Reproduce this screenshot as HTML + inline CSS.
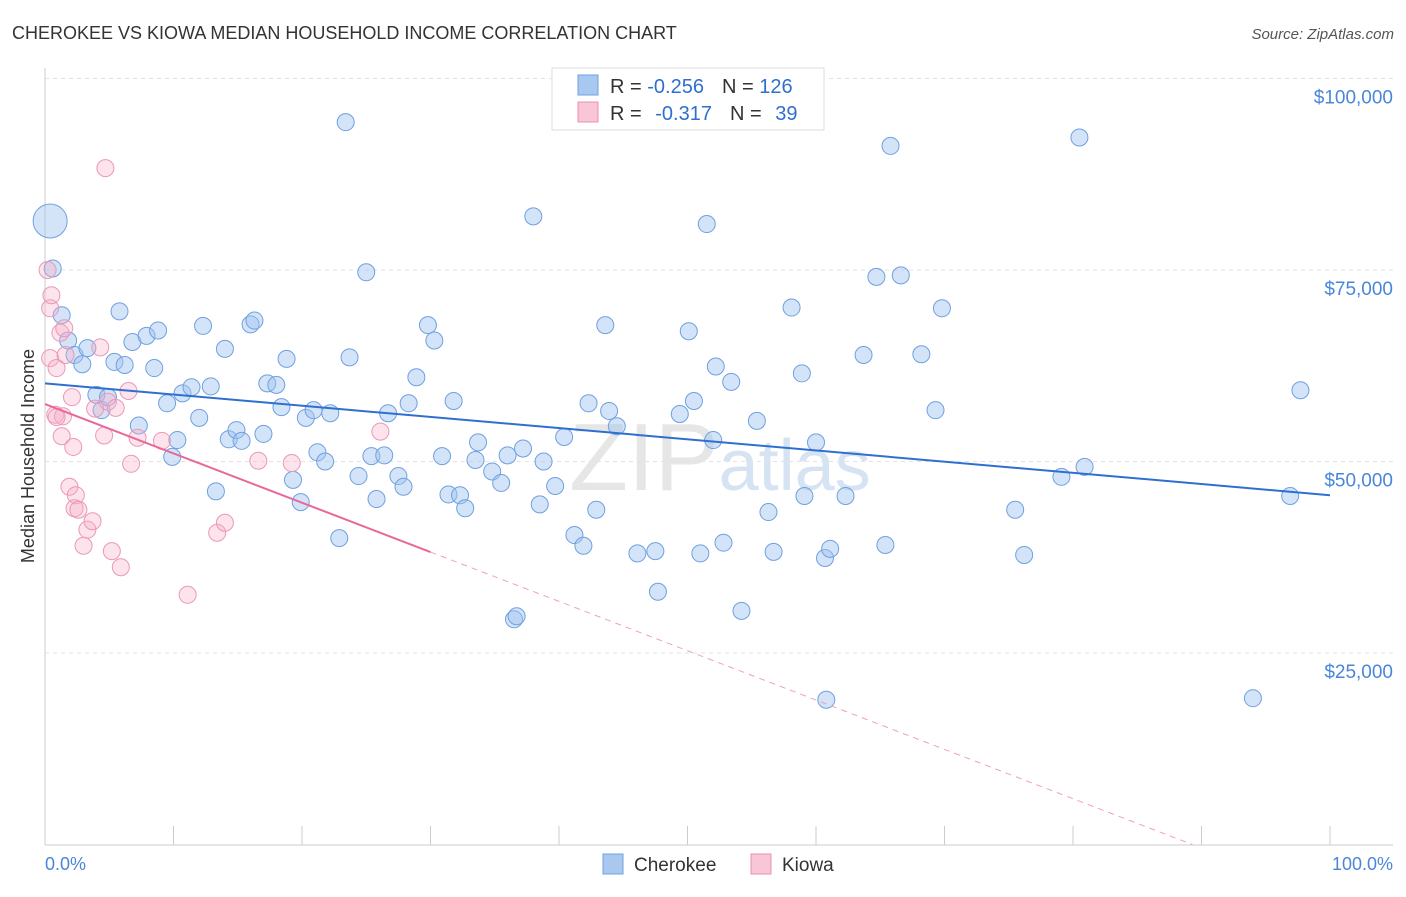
<!DOCTYPE html>
<html><head><meta charset="utf-8"><style>
body{margin:0;background:#fff;font-family:"Liberation Sans",sans-serif;}
svg text{font-family:"Liberation Sans",sans-serif;}
</style></head><body>
<svg id="chart" width="1406" height="892" viewBox="0 0 1406 892" xmlns="http://www.w3.org/2000/svg">
<text x="12" y="39" font-size="18" fill="#333">CHEROKEE VS KIOWA MEDIAN HOUSEHOLD INCOME CORRELATION CHART</text>
<text x="1394" y="39" font-size="15" fill="#555" text-anchor="end" font-style="italic">Source: ZipAtlas.com</text>
<text x="720" y="490" font-size="96" fill="#e6e6e6" text-anchor="middle" font-family="Liberation Serif">ZIP<tspan fill="#d5e3f3" font-family="Liberation Sans" font-size="72">atlas</tspan></text>
<g id="grid"></g>
<g id="axes"></g>
<g id="points"></g>
<g id="trends"></g>
<text transform="translate(34,456) rotate(-90)" font-size="18" fill="#333" text-anchor="middle">Median Household Income</text>
<text x="45" y="870" font-size="18" fill="#4a86d8">0.0%</text>
<text x="1393" y="870" font-size="18" fill="#4a86d8" text-anchor="end">100.0%</text>
<g>
<rect x="552" y="68" width="272" height="62" fill="#fff" stroke="#ddd"/>
<rect x="578" y="75" width="20" height="20" fill="#a9c8f0" stroke="#6fa0e0"/>
<rect x="578" y="102" width="20" height="20" fill="#f8c6d6" stroke="#e890b0"/>
<text x="610" y="93" font-size="20" fill="#333">R = <tspan fill="#2f6fd0">-0.256</tspan><tspan dx="18">N = </tspan><tspan fill="#2f6fd0">126</tspan></text>
<text x="610" y="120" font-size="20" fill="#333">R = <tspan dx="8" fill="#2f6fd0">-0.317</tspan><tspan dx="18">N = </tspan><tspan dx="8" fill="#2f6fd0">39</tspan></text>
</g>
<g>
<rect x="603" y="854" width="20" height="20" fill="#a9c8f0" stroke="#6fa0e0"/>
<text x="634" y="871" font-size="19" fill="#333">Cherokee</text>
<rect x="751" y="854" width="20" height="20" fill="#f8c6d6" stroke="#e890b0"/>
<text x="782" y="871" font-size="19" fill="#333">Kiowa</text>
</g>
</svg>
<script>
const yTicks=[25000,50000,75000,100000];
const yTickLabels=["$25,000","$50,000","$75,000","$100,000"];
const xTicks=[0,10,20,30,40,50,60,70,80,90,100];
const cherokeeX=[0.4,0.6,1.3,1.8,2.3,2.9,3.3,4.0,4.4,4.9,5.4,5.8,6.2,6.8,7.3,7.9,8.5,8.8,9.5,9.9,10.3,10.7,11.4,12.0,12.3,12.9,13.3,14.0,14.3,14.9,15.3,16.0,16.3,17.0,17.3,18.0,18.4,18.8,19.3,19.9,20.3,20.9,21.2,21.8,22.2,22.9,23.4,23.7,24.4,25.0,25.4,25.8,26.4,26.7,27.5,27.9,28.3,28.9,29.8,30.3,30.9,31.4,31.8,32.3,32.7,33.5,33.7,34.8,35.5,36.0,36.5,36.7,37.2,38.0,38.5,38.8,39.7,40.4,41.2,41.9,42.3,42.9,43.6,43.9,44.5,46.1,47.5,47.7,49.4,50.1,50.5,51.0,51.5,52.0,52.2,52.8,53.4,54.2,55.4,56.3,56.7,58.1,58.9,59.1,60.0,60.7,60.8,61.1,62.3,63.7,64.7,65.4,65.8,66.6,68.2,69.3,69.8,75.5,76.2,79.1,80.5,80.9,94.0,96.9,97.7];
const cherokeeY=[81.4,75.2,69.1,65.8,63.9,62.7,64.8,58.7,56.7,58.4,63.0,69.6,62.6,65.6,54.7,66.4,62.2,67.1,57.6,50.6,52.8,58.9,59.7,55.7,67.7,59.8,46.1,64.7,52.9,54.1,52.7,67.9,68.4,53.6,60.2,60.0,57.1,63.4,47.6,44.7,55.7,56.7,51.2,50.0,56.3,40.0,94.3,63.6,48.1,74.7,50.7,45.1,50.8,56.3,48.1,46.7,57.6,61.0,67.8,65.8,50.7,45.7,57.9,45.6,43.9,50.2,52.5,48.7,47.2,50.8,29.4,29.8,51.7,82.0,44.4,50.0,46.8,53.2,40.4,39.0,57.6,43.7,67.8,56.6,54.6,38.0,38.3,33.0,56.2,67.0,57.9,38.0,81.0,52.8,62.4,39.4,60.4,30.5,55.3,43.4,38.2,70.1,61.5,45.5,52.5,37.4,18.9,38.6,45.5,63.9,74.1,39.1,91.2,74.3,64.0,56.7,70.0,43.7,37.8,48.0,92.3,49.3,19.1,45.5,59.3];
const kiowaX=[0.2,0.4,0.5,0.4,0.8,0.9,1.2,1.4,1.3,1.5,1.6,1.9,2.1,2.2,2.4,2.3,2.6,3.0,3.3,3.7,3.9,4.3,4.6,4.9,5.2,5.5,5.9,6.5,6.7,7.2,9.1,11.1,4.7,13.4,14.0,16.6,19.2,26.1,0.9];
const kiowaY=[75.0,70.0,71.7,63.5,56.1,62.2,66.8,55.9,53.3,67.4,63.9,46.7,58.4,51.9,45.6,43.9,43.7,39.0,41.1,42.2,56.9,64.9,53.4,57.8,38.3,57.0,36.2,59.2,49.7,53.1,52.7,32.6,88.3,40.7,42.0,50.1,49.8,53.9,55.8];
const cherokeeTrend=[60.2,-0.146]; // intercept (k$), slope per %
const kiowaTrend=[57.5,-0.644];
const kiowaSolidEnd=30;
const NS="http://www.w3.org/2000/svg";
const X0=45,X1=1330,Y0=844.5,PXK=191.5/25;
function sx(p){return X0+(X1-X0)*p/100;}
function sy(k){return Y0-k*PXK;}
function mk(tag,attrs,parent){const e=document.createElementNS(NS,tag);for(const k in attrs)e.setAttribute(k,attrs[k]);parent.appendChild(e);return e;}
const grid=document.getElementById('grid'),axes=document.getElementById('axes'),pts=document.getElementById('points'),tr=document.getElementById('trends');
yTicks.forEach((v,i)=>{
 const l=mk('line',{x1:45,x2:1393,y1:sy(v/1000),y2:sy(v/1000),stroke:'#e3e3e3','stroke-dasharray':'4,4'},grid);
 
 
 const t=mk('text',{x:1393,y:sy(v/1000)+25,'font-size':19,fill:'#4a86d8','text-anchor':'end'},axes);
 t.textContent=yTickLabels[i];
 
 
});
const ax=mk('line',{x1:45,x2:1393,y1:845,y2:845,stroke:'#ccc'},axes);


const ay=mk('line',{x1:45,x2:45,y1:68,y2:845,stroke:'#ccc'},axes);


xTicks.forEach(v=>{
 const l=mk('line',{x1:sx(v),x2:sx(v),y1:826,y2:845,stroke:'#ccc'},axes);
 
 
});
cherokeeX.forEach((x,i)=>{
 const c=mk('circle',{cx:sx(x),cy:sy(cherokeeY[i]),r:i===0?17:8.5,fill:'rgba(160,196,240,0.45)',stroke:'#6fa0e0','stroke-width':1},pts);
 
 
});
kiowaX.forEach((x,i)=>{
 const c=mk('circle',{cx:sx(x),cy:sy(kiowaY[i]),r:8.5,fill:'rgba(246,176,200,0.35)',stroke:'#eb98b8','stroke-width':1},pts);
 
 
});
const bl=mk('line',{x1:sx(0),y1:sy(cherokeeTrend[0]),x2:sx(100),y2:sy(cherokeeTrend[0]+cherokeeTrend[1]*100),stroke:'#2f6fd0','stroke-width':2},tr);


const kEnd=-kiowaTrend[0]/kiowaTrend[1];
const pd=mk('line',{x1:sx(kiowaSolidEnd),y1:sy(kiowaTrend[0]+kiowaTrend[1]*kiowaSolidEnd),x2:sx(kEnd),y2:sy(0),stroke:'#f0a0bc','stroke-width':1,'stroke-dasharray':'6,5'},tr);


const pl=mk('line',{x1:sx(0),y1:sy(kiowaTrend[0]),x2:sx(kiowaSolidEnd),y2:sy(kiowaTrend[0]+kiowaTrend[1]*kiowaSolidEnd),stroke:'#e8689a','stroke-width':2},tr);


</script>
</body></html>
